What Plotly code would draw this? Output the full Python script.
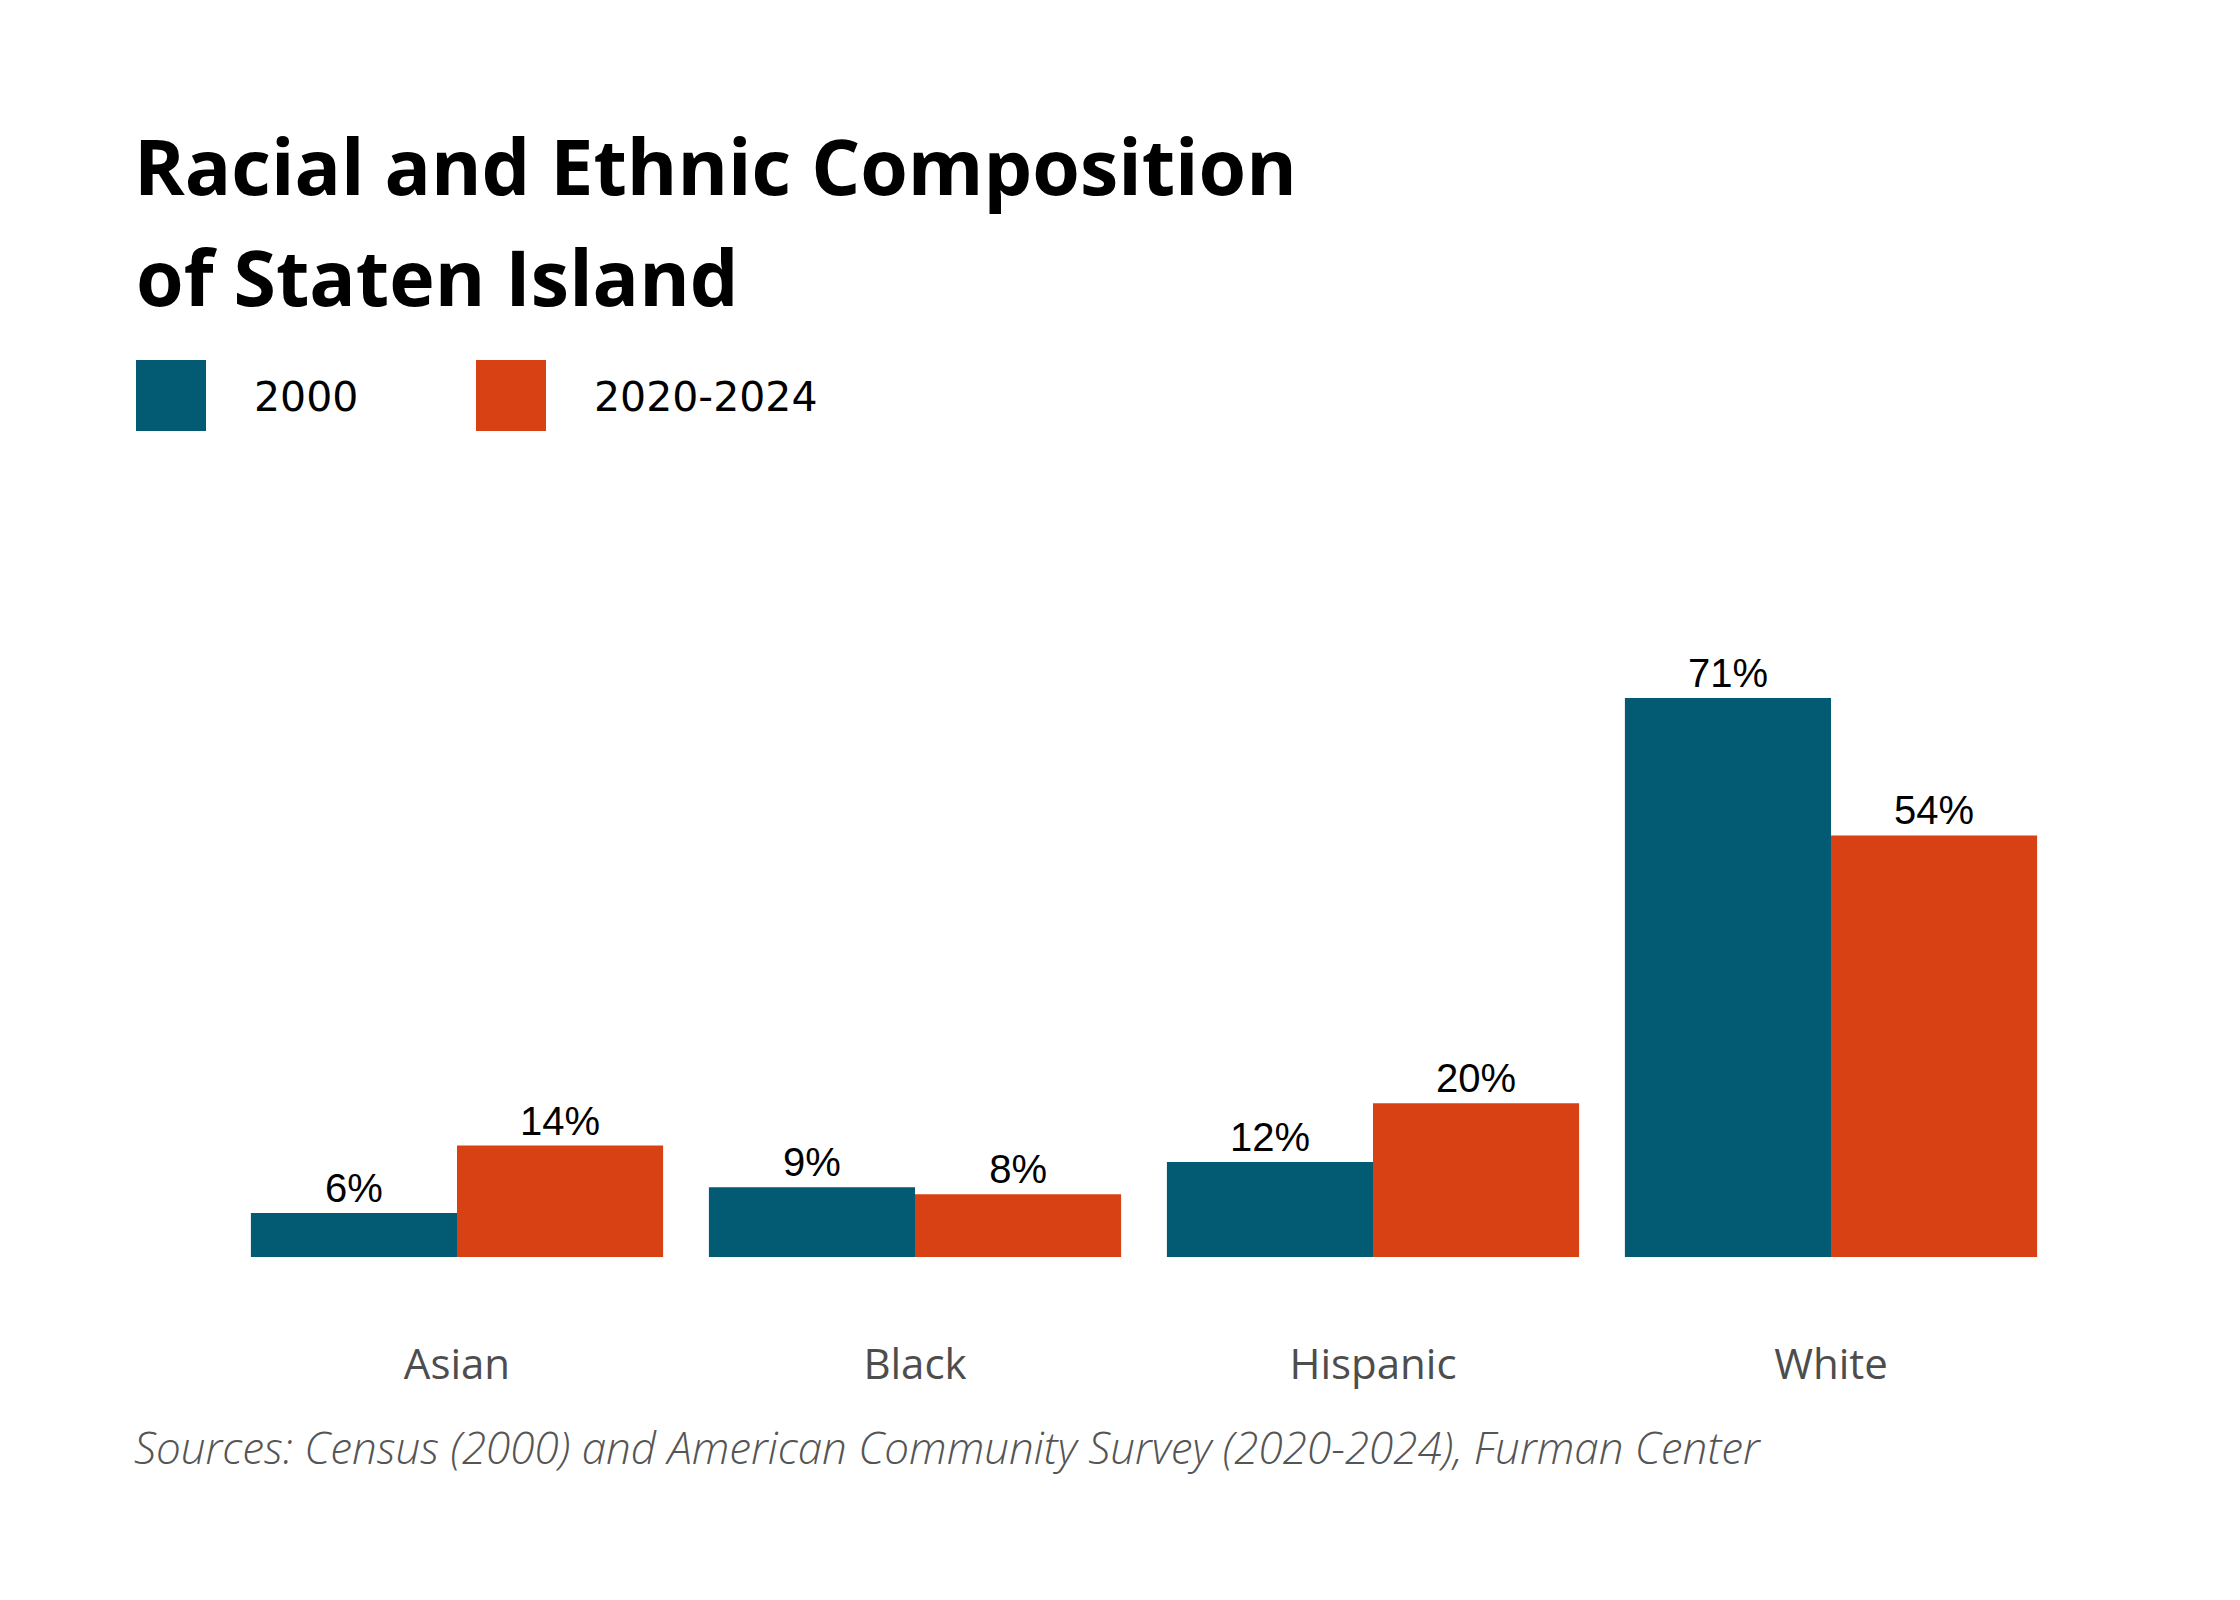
import plotly.graph_objects as go

# ---- data ----
categories = ["Asian", "Black", "Hispanic", "White"]
share_2000 = [5.6, 8.9, 12.1, 71.2]
share_2020_2024 = [14.2, 8.0, 19.6, 53.7]
series_names = ["2000", "2020-2024"]

title_line1 = "Racial and Ethnic Composition"
title_line2 = "of Staten Island"
source_note = "Sources: Census (2000) and American Community Survey (2020-2024), Furman Center"

# ---- styling ----
BLUE = "#025a73"
ORANGE = "#d84113"
W, H = 2240, 1600
OFF = 8  # page body margin
L, R, T, B = 220, 188, 621, 351


def px_x(X):
    return (X - OFF - L) / (W - L - R)


def px_y(Y):
    return (H - B - (Y - OFF)) / (H - T - B)


fig = go.Figure()
for name, vals, col in [(series_names[0], share_2000, BLUE),
                        (series_names[1], share_2020_2024, ORANGE)]:
    fig.add_trace(go.Bar(
        x=categories, y=vals, name=name,
        marker=dict(color=col, line=dict(width=0)),
        texttemplate="%{y:.0f}%", textposition="outside",
        constraintext="none", cliponaxis=False,
        textfont=dict(family="Liberation Sans, Arial", size=40, color="#000000"),
        hoverinfo="skip",
    ))

fig.update_layout(
    width=W, height=H,
    margin=dict(l=L, r=R, t=T, b=B, pad=0),
    paper_bgcolor="white", plot_bgcolor="white",
    barmode="group", bargap=0.1, bargroupgap=0,
    showlegend=False,
    title=dict(
        text=title_line1,
        font=dict(family="Open Sans", size=77, color="#000000", weight=700),
        xref="container", yref="container",
        x=(134 - OFF) / W, xanchor="left",
        y=1 - (141 - OFF) / H, yanchor="top",
    ),
    xaxis=dict(
        showline=False, showgrid=False, zeroline=False, ticks="",
        tickfont=dict(family="Open Sans", size=42, color="#4d4d4d"),
        ticklabelstandoff=79,
    ),
    yaxis=dict(visible=False, range=[0, 80], showgrid=False, zeroline=False),
)

# second line of the title
fig.add_annotation(
    text=title_line2, xref="paper", yref="paper",
    x=px_x(134), y=px_y(222), xanchor="left", yanchor="top",
    showarrow=False,
    font=dict(family="Open Sans", size=77, color="#000000", weight=700),
)

# legend (large square swatches)
legend_items = [(series_names[0], BLUE, 136, 252), (series_names[1], ORANGE, 476, 592)]
for name, col, sx, tx in legend_items:
    fig.add_shape(type="rect", xref="paper", yref="paper",
                  x0=px_x(sx), x1=px_x(sx + 70), y0=px_y(431), y1=px_y(360),
                  fillcolor=col, line=dict(width=0))
    fig.add_annotation(text=name, xref="paper", yref="paper",
                       x=px_x(tx), y=px_y(397), xanchor="left", yanchor="middle",
                       showarrow=False,
                       font=dict(family="DejaVu Sans", size=41, color="#000000"))

# source note
fig.add_annotation(
    text="<i>" + source_note + "</i>", xref="paper", yref="paper",
    x=px_x(132), y=px_y(1447), xanchor="left", yanchor="middle",
    showarrow=False,
    font=dict(family="Open Sans", size=44, color="#555555", weight=300),
)

fig.write_html("out.html")
